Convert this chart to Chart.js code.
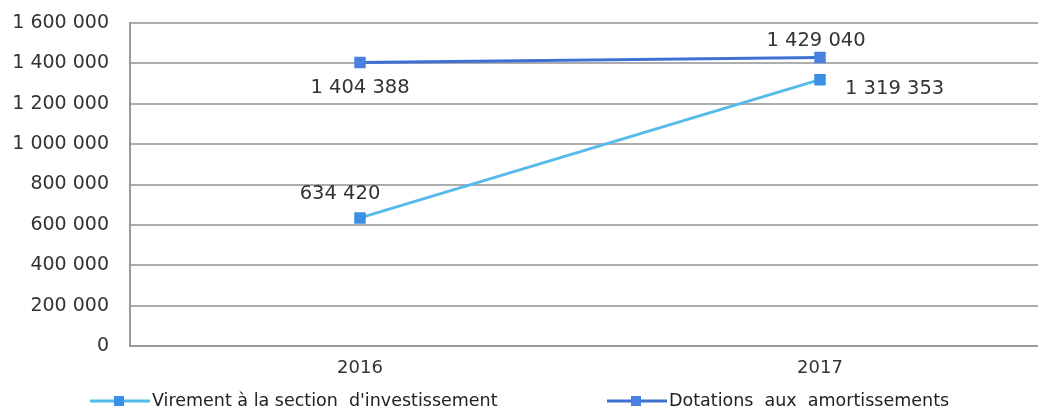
<!DOCTYPE html>
<html><head><meta charset="utf-8">
<script src="https://cdn.jsdelivr.net/npm/chart.js@4/dist/chart.umd.min.js"></script>
<style>
html,body{margin:0;padding:0;background:#fff;overflow:hidden;width:1038px;height:409px;}
#wrap{width:1060px;height:409px;position:relative;}
</style></head><body>
<div id="wrap"><canvas id="c"></canvas></div>
<script>
const categories = ["2016", "2017"];
const virementValues = [634420, 1319353];
const dotationsValues = [1404388, 1429040];
const seriesNames = ["Virement à la section  d'investissement", "Dotations  aux  amortissements"];
const yTicks = [0, 200000, 400000, 600000, 800000, 1000000, 1200000, 1400000, 1600000];

const FONT = "'DejaVu Sans', sans-serif";
const fmt = v => String(v).replace(/\B(?=(\d{3})+(?!\d))/g, " ");

const labelPlugin = {
  id: 'labels',
  afterDatasetsDraw(chart) {
    const ctx = chart.ctx;
    ctx.save();
    ctx.font = "19.5px " + FONT;
    ctx.fillStyle = "#333";
    ctx.textBaseline = "middle";
    const offs = [
      [{dx:-20,dy:-24,al:'center'},{dx:25,dy:9,al:'left'}],
      [{dx:0,dy:25,al:'center'},{dx:-4,dy:-17,al:'center'}]
    ];
    chart.data.datasets.forEach((ds, di) => {
      chart.getDatasetMeta(di).data.forEach((pt, i) => {
        const o = offs[di][i];
        ctx.textAlign = o.al;
        ctx.fillText(fmt(ds.data[i]), pt.x + o.dx, pt.y + o.dy);
      });
    });
    ctx.restore();
  }
};

const legendPlugin = {
  id: 'customLegend',
  afterDraw(chart) {
    const ctx = chart.ctx;
    ctx.save();
    ctx.font = "17.5px " + FONT;
    ctx.textBaseline = "middle";
    const y = 401;
    const items = [{x:90}, {x:607}];
    chart.data.datasets.forEach((ds, i) => {
      const x = items[i].x;
      ctx.strokeStyle = ds.borderColor;
      ctx.lineWidth = 3;
      ctx.beginPath(); ctx.moveTo(x, y); ctx.lineTo(x + 60, y); ctx.stroke();
      ctx.fillStyle = ds.pointBackgroundColor;
      ctx.fillRect(x + 24, y - 5, 10, 10);
      ctx.fillStyle = "#222";
      ctx.textAlign = "left";
      ctx.fillText(ds.label, x + 62, y);
    });
    ctx.restore();
  }
};

new Chart(document.getElementById('c'), {
  type: 'line',
  data: {
    labels: categories,
    datasets: [
      { label: seriesNames[0], data: virementValues, borderColor: '#55bbea', backgroundColor: '#55bbea',
        pointBackgroundColor: '#3a90e4', pointBorderColor: '#3a90e4', pointStyle: 'rect', pointRadius: 6, borderWidth: 3 },
      { label: seriesNames[1], data: dotationsValues, borderColor: '#3e70d2', backgroundColor: '#3e70d2',
        pointBackgroundColor: '#4a80e2', pointBorderColor: '#4a80e2', pointStyle: 'rect', pointRadius: 6, borderWidth: 3 }
    ]
  },
  options: {
    responsive: true, maintainAspectRatio: false, animation: false, devicePixelRatio: 1,
    layout: { padding: { top: 23, right: 10, left: 0, bottom: 0 } },
    plugins: { legend: { display: false }, tooltip: { enabled: false } },
    scales: {
      x: {
        offset: true,
        grid: { display: false, drawTicks: false },
        border: { display: true, color: '#9a9a9a', width: 2 },
        ticks: { font: { family: FONT, size: 18 }, color: '#333', padding: 12 },
        afterFit(s) { s.height = 63; }
      },
      y: {
        min: 0, max: 1600000,
        afterBuildTicks(s) { s.ticks = yTicks.map(v => ({ value: v })); },
        grid: { color: '#acacac', lineWidth: 2, drawTicks: false },
        border: { display: true, color: '#9a9a9a', width: 2 },
        ticks: { font: { family: FONT, size: 19 }, color: '#333', padding: 21, callback: v => fmt(v) },
        afterFit(s) { s.width = 130; s.paddingTop = 0; s.paddingBottom = 0; }
      }
    }
  },
  plugins: [labelPlugin, legendPlugin]
});
</script>
</body></html>
